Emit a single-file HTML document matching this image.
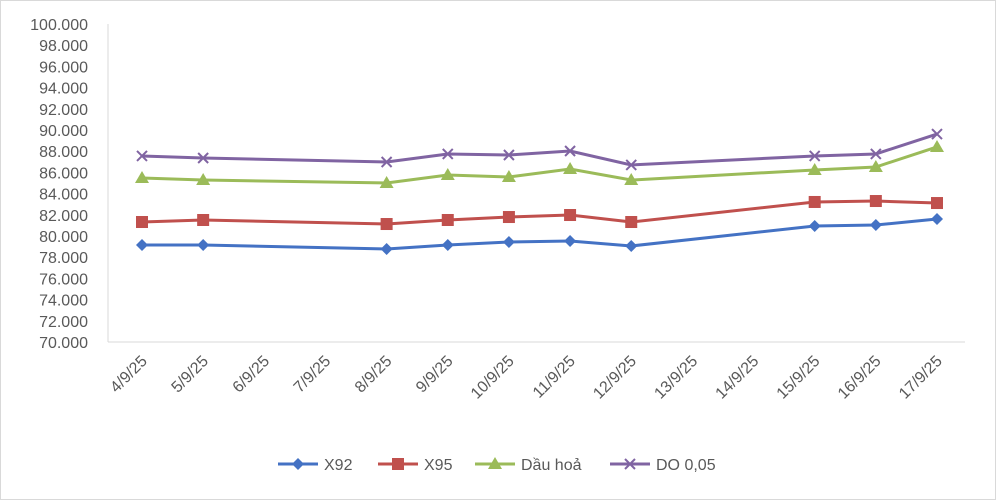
<!DOCTYPE html>
<html><head><meta charset="utf-8"><style>
body{margin:0;background:#fff;}
svg{display:block;font-family:"Liberation Sans","Noto Sans CJK SC",sans-serif;}
</style></head><body>
<svg id="chart" width="996" height="500">
<rect x="0.5" y="0.5" width="995" height="499" fill="#fff" stroke="#d9d9d9"/>
<g id="axes"></g><g id="series"></g><g id="legend"></g>
</svg>
<script>
const categories=["4/9/25","5/9/25","6/9/25","7/9/25","8/9/25","9/9/25","10/9/25","11/9/25","12/9/25","13/9/25","14/9/25","15/9/25","16/9/25","17/9/25"];
const x92=[79150,79150,null,null,78770,79150,79430,79530,79060,null,null,80940,81040,81600];
const x95=[81320,81510,null,null,81130,81510,81790,81980,81320,null,null,83210,83300,83110];
const dauHoa=[85470,85280,null,null,85000,85750,85570,86320,85280,null,null,86230,86510,88400];
const do005=[87550,87360,null,null,86980,87740,87640,88020,86700,null,null,87550,87740,89620];
const yTicks=[70000,72000,74000,76000,78000,80000,82000,84000,86000,88000,90000,92000,94000,96000,98000,100000];
const seriesNames=["X92","X95","Dầu hoả","DO 0,05"];
const NS="http://www.w3.org/2000/svg";
const yMin=70000,yMax=100000,yTop=24,yBot=342,x0=142,step=(937-142)/13;
const Y=v=>yBot-(v-yMin)/(yMax-yMin)*(yBot-yTop);
const X=i=>x0+i*step;
function mk(t,a,p){const e=document.createElementNS(NS,t);for(const k in a)e.setAttribute(k,a[k]);p.appendChild(e);return e;}
const ax=document.getElementById('axes');
let l=mk('line',{x1:108,y1:yTop,x2:108,y2:yBot,stroke:'#d9d9d9'},ax);


l=mk('line',{x1:108,y1:yBot,x2:965,y2:yBot,stroke:'#d9d9d9'},ax);


yTicks.forEach(v=>{const t=mk('text',{x:88,y:Y(v)+6,'text-anchor':'end','font-size':16,fill:'#595959'},ax);
t.textContent=(v/1000).toFixed(3);

});
categories.forEach((c,i)=>{const x=X(i);const t=mk('text',{x:x+6,y:362,'text-anchor':'end','font-size':16,fill:'#595959',transform:`rotate(-45 ${x+6} 362)`},ax);
t.textContent=c;

});
const colors=["#4472c4","#c0504d","#9bbb59","#8064a2"];
const datas=[x92,x95,dauHoa,do005];
const sg=document.getElementById('series');
function marker(k,x,y,g){
 let e;
 if(k===0)e=mk('polygon',{points:`${x},${y-6} ${x+6},${y} ${x},${y+6} ${x-6},${y}`,fill:colors[0]},g);
 else if(k===1)e=mk('rect',{x:x-6,y:y-6,width:12,height:12,fill:colors[1]},g);
 else if(k===2)e=mk('polygon',{points:`${x},${y-7} ${x+7},${y+5} ${x-7},${y+5}`,fill:colors[2]},g);
 else e=mk('path',{d:`M${x-5} ${y-5}L${x+5} ${y+5}M${x+5} ${y-5}L${x-5} ${y+5}`,stroke:colors[3],'stroke-width':2},g);
 return e;
}
datas.forEach((d,k)=>{const g=mk('g',{},sg);


const pts=[];d.forEach((v,i)=>{if(v!=null)pts.push([X(i),Y(v)]);});
const p=mk('polyline',{points:pts.map(p=>p.join(',')).join(' '),fill:'none',stroke:colors[k],'stroke-width':3},g);


pts.forEach(q=>{const m=marker(k,q[0],q[1],g);

});});
const lg=document.getElementById('legend');
const lx=[278,378,475,610];
seriesNames.forEach((n,k)=>{const g=mk('g',{},lg);


mk('line',{x1:lx[k],y1:464,x2:lx[k]+40,y2:464,stroke:colors[k],'stroke-width':3},g);
marker(k,lx[k]+20,464,g);
const t=mk('text',{x:lx[k]+46,y:470,'font-size':16,fill:'#595959'},g);t.textContent=n;});
</script>
</body></html>
